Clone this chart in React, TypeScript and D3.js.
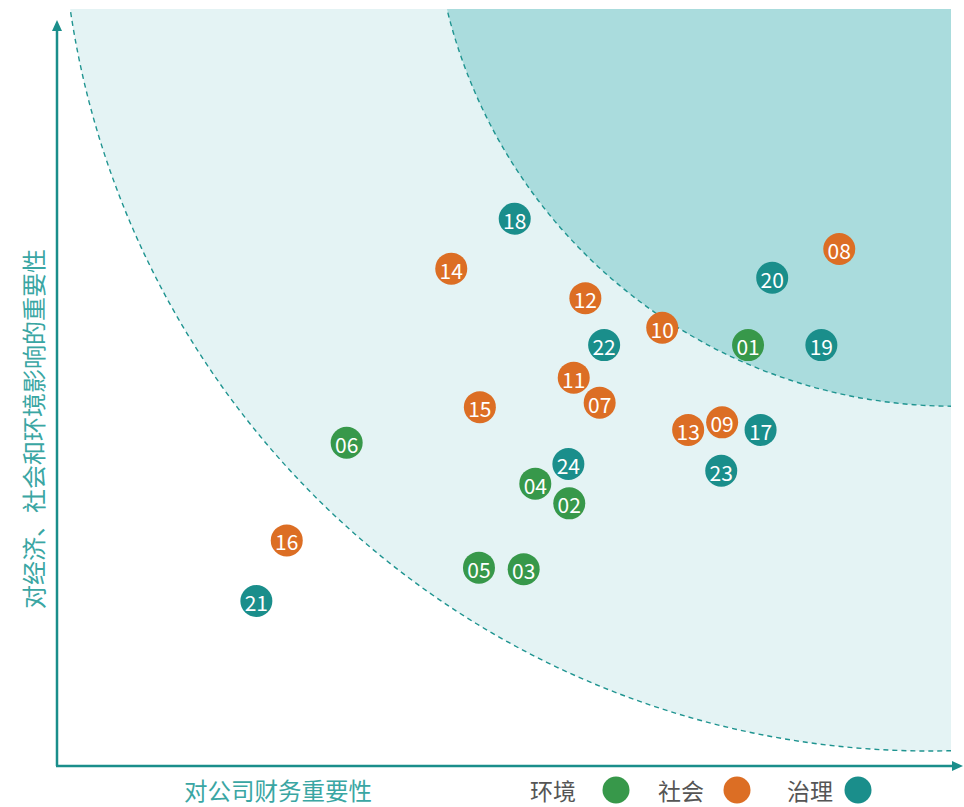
import React from "react";
import * as d3 from "d3";

// ---- data ----
const categories = ["环境", "社会", "治理"];
const categoryColors = ["#37984a", "#dc6e24", "#1a8e8b"];

const ids = ["01","02","03","04","05","06","07","08","09","10","11","12","13","14","15","16","17","18","19","20","21","22","23","24"];
const groups = [0,0,0,0,0,0,1,1,1,1,1,1,1,1,1,1,2,2,2,2,2,2,2,2];
const financial = [77.3,57.3,52.2,53.5,47.2,32.4,60.7,87.5,74.4,67.7,57.8,59.1,70.6,44.1,47.3,25.7,78.7,51.2,85.5,80.0,22.3,61.2,74.3,57.2];
const impact    = [55.6,34.7,26.0,37.3,26.2,42.7,48.0,68.3,45.4,57.9,51.3,61.8,44.4,65.7,47.4,29.8,44.4,72.3,55.6,64.5,21.8,55.6,39.0,39.9];

const xLabel = "对公司财务重要性";
const yLabel = "对经济、社会和环境影响的重要性";

// ---- layout ----
const W = 964, H = 807;
const X0 = 57, X1 = 951, Y0 = 766, Y1 = 9;
const FONT = "'Noto Sans CJK SC', 'Noto Sans', sans-serif";
const TEAL = "#1a8e8b";

export default function App() {
  const x = d3.scaleLinear().domain([0, 100]).range([X0, X1]);
  const y = d3.scaleLinear().domain([0, 100]).range([Y0, Y1]);

  // zone boundaries (circular arcs in screen space)
  const outer = { cx: 929, cy: -117, r: 868 };
  const inner = { cx: 953, cy: -115, r: 521 };

  const arcPath = (c: { cx: number; cy: number; r: number }) => {
    const p = d3.path();
    p.arc(c.cx, c.cy, c.r, 0, Math.PI);
    return p.toString();
  };
  const circlePath = (c: { cx: number; cy: number; r: number }) => {
    const p = d3.path();
    p.arc(c.cx, c.cy, c.r, 0, 2 * Math.PI);
    p.closePath();
    return p.toString();
  };

  const pts = ids.map((id, i) => ({ id, g: groups[i], px: x(financial[i]), py: y(impact[i]) }));

  const legendX = [530, 658, 787];
  const legendCircleX = [616, 737, 858];

  return (
    <svg width={W} height={H} style={{ position: "absolute", left: 0, top: 0, fontFamily: FONT }}>
      <defs>
        <clipPath id="plotClip">
          <rect x={0} y={Y1} width={X1} height={Y0 - Y1} />
        </clipPath>
      </defs>
      <g clipPath="url(#plotClip)">
        <path d={circlePath(outer)} fill="#e4f3f4" />
        <path d={circlePath(inner)} fill="#aadcdd" />
        <path d={arcPath(outer)} fill="none" stroke="#1f9490" strokeWidth={1.4} strokeDasharray="5 4" />
        <path d={arcPath(inner)} fill="none" stroke="#1f9490" strokeWidth={1.4} strokeDasharray="5 4" />
      </g>

      {/* axes */}
      <line x1={X0} y1={Y0} x2={X0} y2={28} stroke={TEAL} strokeWidth={2.5} />
      <path d={`M${X0 - 5},${31} L${X0},${20} L${X0 + 5},${31} Z`} fill={TEAL} />
      <line x1={X0 - 1} y1={Y0} x2={954} y2={Y0} stroke={TEAL} strokeWidth={2.5} />
      <path d={`M${952},${Y0 - 5} L${963},${Y0} L${952},${Y0 + 5} Z`} fill={TEAL} />

      {/* axis labels */}
      <text x={278} y={790} fontSize={23.5} fill="#3aa6a3" textAnchor="middle" dominantBaseline="central">{xLabel}</text>
      <text transform={`translate(32,429) rotate(-90)`} fontSize={24} fill="#3aa6a3" textAnchor="middle" dominantBaseline="central">{yLabel}</text>

      {/* points */}
      {pts.map((p) => (
        <g key={p.id}>
          <circle cx={p.px} cy={p.py} r={16} fill={categoryColors[p.g]} />
          <text x={p.px} y={p.py + 1} fontSize={21} fill="#fff" textAnchor="middle" dominantBaseline="central">{p.id}</text>
        </g>
      ))}

      {/* legend */}
      {categories.map((c, i) => (
        <g key={c}>
          <text x={legendX[i]} y={790} fontSize={23} fill="#555" dominantBaseline="central">{c}</text>
          <circle cx={legendCircleX[i]} cy={790} r={13.5} fill={categoryColors[i]} />
        </g>
      ))}
    </svg>
  );
}
